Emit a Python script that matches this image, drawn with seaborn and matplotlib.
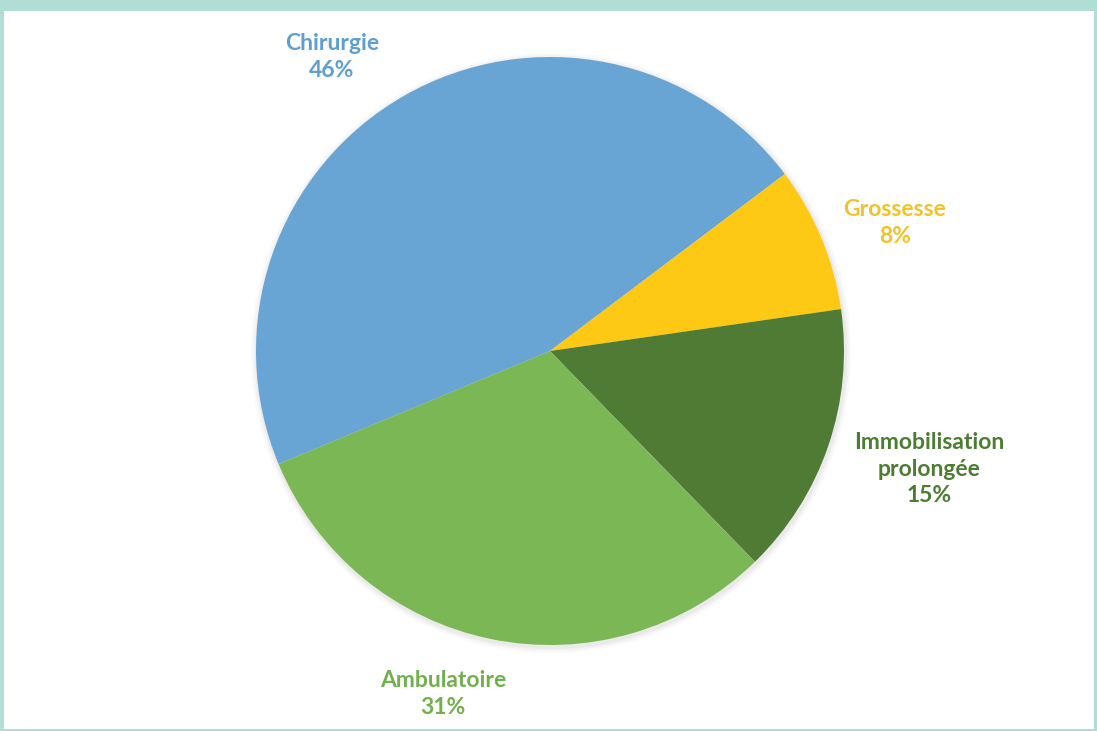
import matplotlib
matplotlib.use("Agg")
import matplotlib.pyplot as plt
import seaborn as sns
from matplotlib.patches import Rectangle, Circle

sns.set_theme(style="white")
plt.rcParams['font.family'] = ['Lato', 'DejaVu Sans']

# ── Data ─────────────────────────────────────
categories = ["Chirurgie", "Grossesse", "Immobilisation\nprolongée", "Ambulatoire"]
shares = [46, 8, 15, 31]
slice_colors = ["#68A4D4", "#FDC914", "#4F7B35", "#7CB756"]
label_colors = ["#5E9FD2", "#F2C227", "#4C7D33", "#72B04C"]

# label anchors in pixels (x, y from top)
label_pos = [(332, 57), (895, 223), (929, 469), (443, 694)]

W, H = 1097, 731
fig = plt.figure(figsize=(W / 100, H / 100), dpi=100, facecolor="#B2DDD4")
ax = fig.add_axes([0, 0, 1, 1])
ax.set_xlim(0, W)
ax.set_ylim(0, H)
ax.set_aspect("equal")
ax.axis("off")

# white panel inside the teal frame
ax.add_patch(Rectangle((4, 2), 1090, 718, facecolor="white", edgecolor="none", zorder=0))

cx, cy, r = 550, H - 351, 294

# soft shadow
for k, a in [(6, 0.04), (4, 0.05), (2, 0.07)]:
    ax.add_patch(Circle((cx + 1, cy - 2), r + k, facecolor="grey", alpha=a,
                        edgecolor="none", zorder=1))

wedges, _ = ax.pie(shares, colors=slice_colors, startangle=202.6, counterclock=False,
                   center=(cx, cy), radius=r, wedgeprops=dict(linewidth=0),
                   frame=True)
for w in wedges:
    w.set_zorder(2)
ax.set_xlim(0, W)
ax.set_ylim(0, H)
ax.axis("off")

for name, val, col, (lx, ly) in zip(categories, shares, label_colors, label_pos):
    ax.text(lx, H - ly, f"{name}\n{val}%", color=col, fontsize=16.5, fontweight="bold",
            ha="center", va="center", linespacing=1.3, zorder=3)

fig.savefig("out.png", dpi=100, facecolor=fig.get_facecolor())
